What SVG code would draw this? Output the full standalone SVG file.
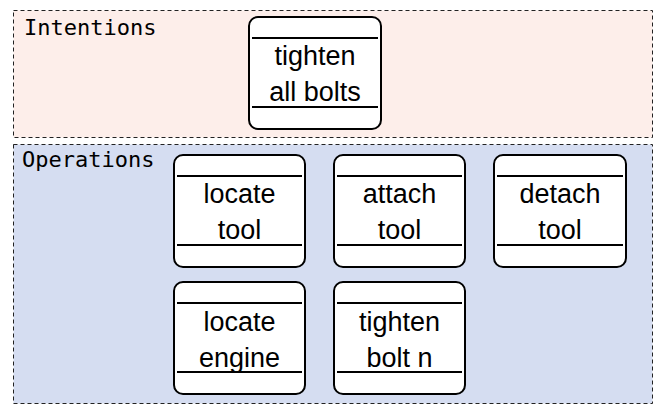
<svg xmlns="http://www.w3.org/2000/svg" width="661" height="405" viewBox="0 0 661 405">
<style>
.lane{stroke:#222;stroke-width:1;stroke-dasharray:4,3}
.lbl{font-family:"DejaVu Sans Mono",monospace;font-size:22px;fill:#000}
.box{fill:#fff;stroke:#000;stroke-width:2}
.sep{stroke:#000;stroke-width:2}
.t{font-family:"Liberation Sans",Arial,sans-serif;font-size:27px;fill:#000;text-anchor:middle}
</style>
<g id="lane-intentions">
<rect class="lane" x="13.5" y="10.5" width="639" height="127" fill="#fdeeea"/>
<text class="lbl" x="24" y="35">Intentions</text>
</g>
<g id="lane-operations">
<rect class="lane" x="13.5" y="144.5" width="639" height="259" fill="#d5ddf1"/>
<text class="lbl" x="22" y="167">Operations</text>
</g>
<g id="n-tighten-all">
<rect class="box" x="249" y="17" width="132" height="112" rx="9"/>
<line class="sep" x1="252" y1="38" x2="378" y2="38"/>
<line class="sep" x1="252" y1="107" x2="378" y2="107"/>
<text class="t" x="315" y="65">tighten</text>
<text class="t" x="315" y="101">all bolts</text>
</g>
<g id="n-locate-tool">
<rect class="box" x="174" y="155" width="131" height="112" rx="9"/>
<line class="sep" x1="177" y1="176" x2="302" y2="176"/>
<line class="sep" x1="177" y1="245" x2="302" y2="245"/>
<text class="t" x="239.5" y="203">locate</text>
<text class="t" x="239.5" y="239">tool</text>
</g>
<g id="n-attach-tool">
<rect class="box" x="334" y="155" width="131" height="112" rx="9"/>
<line class="sep" x1="337" y1="176" x2="462" y2="176"/>
<line class="sep" x1="337" y1="245" x2="462" y2="245"/>
<text class="t" x="399.5" y="203">attach</text>
<text class="t" x="399.5" y="239">tool</text>
</g>
<g id="n-detach-tool">
<rect class="box" x="494" y="155" width="132" height="112" rx="9"/>
<line class="sep" x1="497" y1="176" x2="623" y2="176"/>
<line class="sep" x1="497" y1="245" x2="623" y2="245"/>
<text class="t" x="560" y="203">detach</text>
<text class="t" x="560" y="239">tool</text>
</g>
<g id="n-locate-engine">
<rect class="box" x="174" y="282" width="131" height="112" rx="9"/>
<line class="sep" x1="177" y1="303" x2="302" y2="303"/>
<line class="sep" x1="177" y1="372" x2="302" y2="372"/>
<text class="t" x="239.5" y="331">locate</text>
<text class="t" x="239.5" y="367">engine</text>
</g>
<g id="n-tighten-bolt">
<rect class="box" x="334" y="282" width="131" height="112" rx="9"/>
<line class="sep" x1="337" y1="303" x2="462" y2="303"/>
<line class="sep" x1="337" y1="372" x2="462" y2="372"/>
<text class="t" x="399.5" y="331">tighten</text>
<text class="t" x="399.5" y="367">bolt n</text>
</g>
<g id="connectors"/>
</svg>
